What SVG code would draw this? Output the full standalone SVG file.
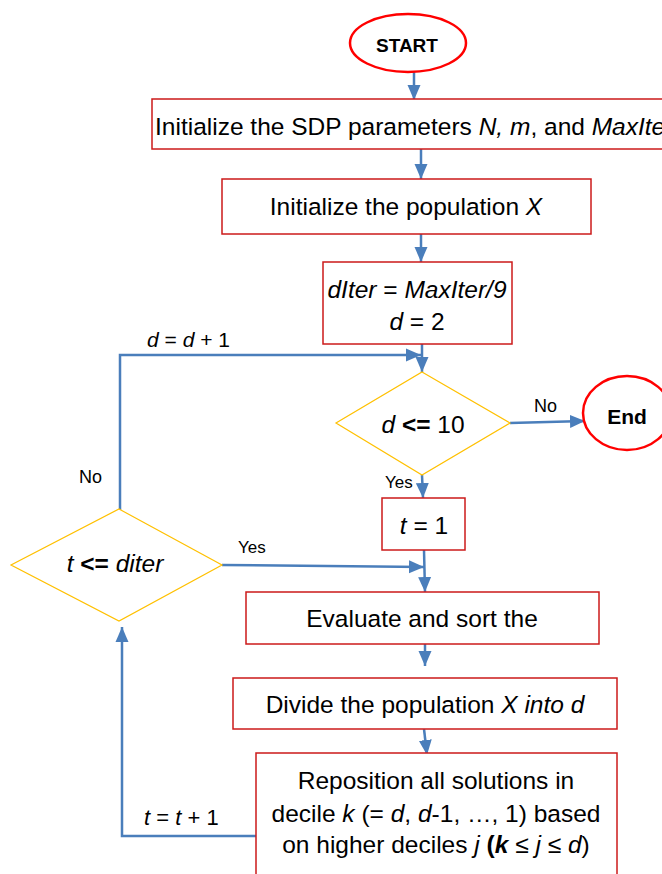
<svg xmlns="http://www.w3.org/2000/svg" width="662" height="874" viewBox="0 0 662 874">
  <style>
    text { font-family: "Liberation Sans", Arial, sans-serif; fill: #000; }
    .box { fill: #fff; stroke: #cc1a1a; stroke-width: 1.5; }
    .term { fill: #fff; stroke: #ff0000; stroke-width: 2.5; }
    .dec { fill: #fff; stroke: #ffc000; stroke-width: 1.2; }
    .wire { fill: none; stroke: #4a7ebb; stroke-width: 2.5; }
    .t24 { font-size: 24.5px; }
    .lbl { font-size: 18px; }
    .i { font-style: italic; }
    .b { font-weight: bold; }
  </style>
  <defs>
    <marker id="arrow" markerUnits="userSpaceOnUse" markerWidth="16" markerHeight="16" viewBox="0 0 16 16" refX="15" refY="8" orient="auto">
      <path d="M0,1.5 L15,8 L0,14.5 Z" fill="#4a7ebb"/>
    </marker>
  </defs>

  <rect width="662" height="874" fill="#fff"/>

  <!-- connectors -->
  <g id="connectors">
    <line class="wire" x1="414" y1="72" x2="414" y2="100" marker-end="url(#arrow)"/>
    <line class="wire" x1="421" y1="149" x2="421" y2="179" marker-end="url(#arrow)"/>
    <line class="wire" x1="421" y1="234" x2="421" y2="262" marker-end="url(#arrow)"/>
    <line class="wire" x1="422" y1="344" x2="422" y2="372" marker-end="url(#arrow)"/>
    <polyline class="wire" points="120,510 120,355 421,355" marker-end="url(#arrow)"/>
    <line class="wire" x1="510" y1="423" x2="585" y2="421" marker-end="url(#arrow)"/>
    <line class="wire" x1="422" y1="475" x2="423" y2="498" marker-end="url(#arrow)"/>
    <line class="wire" x1="424" y1="550" x2="425" y2="592" marker-end="url(#arrow)"/>
    <line class="wire" x1="222" y1="565" x2="424" y2="567" marker-end="url(#arrow)"/>
    <line class="wire" x1="425" y1="644" x2="425" y2="666" marker-end="url(#arrow)"/>
    <line class="wire" x1="424" y1="729" x2="427" y2="755" marker-end="url(#arrow)"/>
    <polyline class="wire" points="256,836 122,836 122,627" marker-end="url(#arrow)"/>

    <text class="lbl" x="147" y="347" style="font-size:21px"><tspan class="i">d</tspan> = <tspan class="i">d</tspan> + 1</text>
    <text class="lbl" x="79" y="483">No</text>
    <text class="lbl" x="534" y="412">No</text>
    <text class="lbl" x="385" y="488" style="font-size:17px">Yes</text>
    <text class="lbl" x="238" y="553" style="font-size:17px">Yes</text>
    <text class="lbl" x="144" y="825" style="font-size:22px"><tspan class="i">t</tspan> = <tspan class="i">t</tspan> + 1</text>
  </g>

  <g id="start">
    <ellipse class="term" cx="408" cy="43" rx="58" ry="29"/>
    <text x="407" y="52" text-anchor="middle" class="b" style="font-size:19px">START</text>
  </g>

  <g id="init-params">
    <rect class="box" x="152" y="99" width="530" height="50"/>
    <text class="t24" x="155" y="135">Initialize the SDP parameters <tspan class="i">N,</tspan> <tspan class="i">m</tspan>, and <tspan class="i">MaxIter</tspan></text>
  </g>

  <g id="init-population">
    <rect class="box" x="222" y="179" width="369" height="55"/>
    <text class="t24" x="406" y="215" text-anchor="middle">Initialize the population <tspan class="i">X</tspan></text>
  </g>

  <g id="set-diter">
    <rect class="box" x="323" y="262" width="189" height="82"/>
    <text class="t24" x="417" y="298" text-anchor="middle"><tspan class="i">dIter</tspan> = <tspan class="i">MaxIter/9</tspan></text>
    <text class="t24" x="417" y="330" text-anchor="middle"><tspan class="i">d</tspan> = 2</text>
  </g>

  <g id="check-d">
    <polygon class="dec" points="422,372 510,423 422,475 336,423"/>
    <text class="t24" x="423" y="433" text-anchor="middle"><tspan class="i">d</tspan> <tspan class="b">&lt;=</tspan> 10</text>
  </g>

  <g id="end">
    <ellipse class="term" cx="627" cy="413" rx="44" ry="37"/>
    <text x="627" y="424" text-anchor="middle" class="b" style="font-size:21px">End</text>
  </g>

  <g id="set-t">
    <rect class="box" x="382" y="498" width="83" height="52"/>
    <text class="t24" x="424" y="534" text-anchor="middle"><tspan class="i">t</tspan> = 1</text>
  </g>

  <g id="check-t">
    <polygon class="dec" points="119,509 222,565 119,621 11,565"/>
    <text class="t24" x="115" y="572" text-anchor="middle"><tspan class="i">t</tspan> <tspan class="b">&lt;=</tspan> <tspan class="i">diter</tspan></text>
  </g>

  <g id="evaluate">
    <rect class="box" x="246" y="592" width="353" height="52"/>
    <text class="t24" x="422" y="627" text-anchor="middle">Evaluate and sort the</text>
  </g>

  <g id="divide">
    <rect class="box" x="233" y="678" width="384" height="51"/>
    <text class="t24" x="425" y="713" text-anchor="middle">Divide the population <tspan class="i">X into d</tspan></text>
  </g>

  <g id="reposition">
    <rect class="box" x="256" y="753" width="361" height="130"/>
    <text class="t24" x="436" y="789" text-anchor="middle">Reposition all solutions in</text>
    <text class="t24" x="436" y="822" text-anchor="middle">decile <tspan class="i">k</tspan> (= <tspan class="i">d</tspan>, <tspan class="i">d</tspan>-1, …, 1) based</text>
    <text class="t24" x="436" y="853" text-anchor="middle">on higher deciles <tspan class="i">j</tspan> <tspan class="b">(</tspan><tspan class="b i">k</tspan> ≤ <tspan class="i">j</tspan> ≤ <tspan class="i">d</tspan>)</text>
  </g>
</svg>
